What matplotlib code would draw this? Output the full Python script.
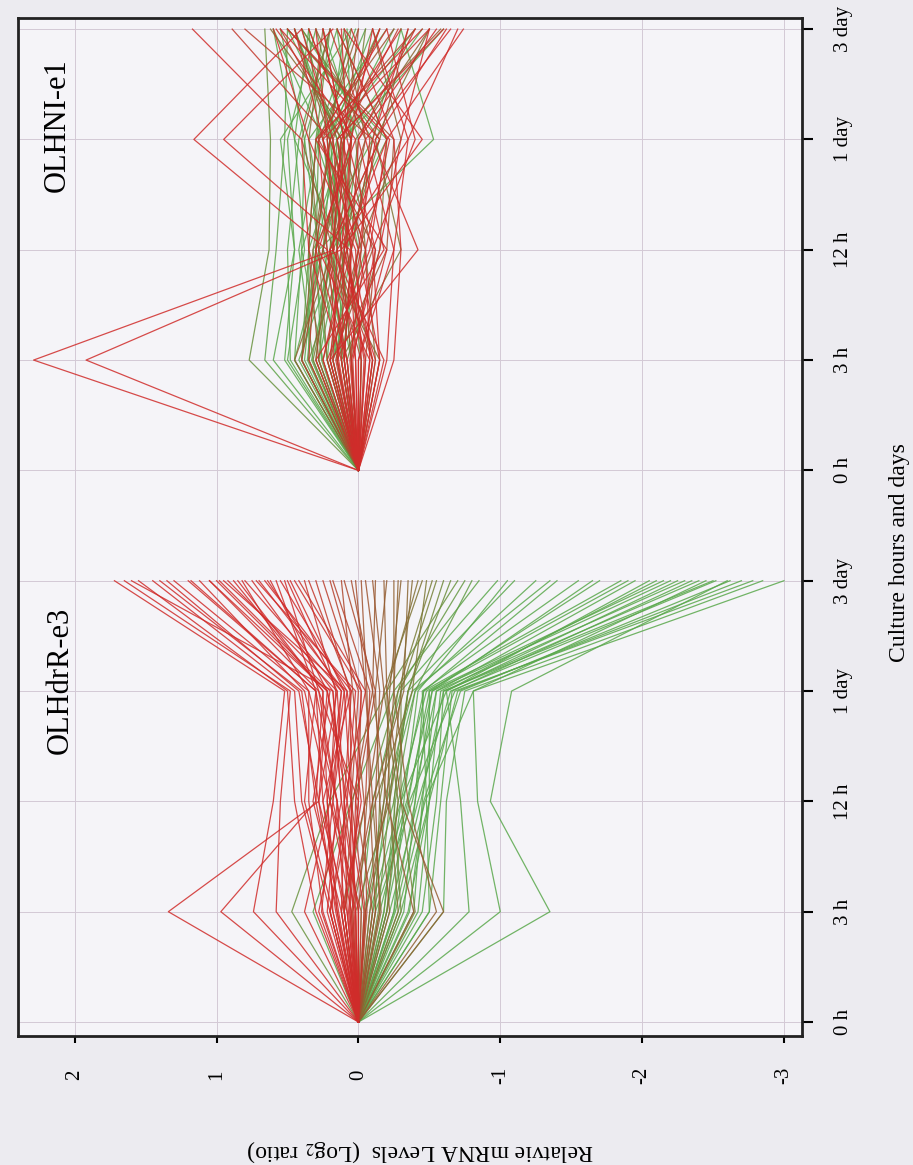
import matplotlib
matplotlib.use("Agg")
import matplotlib.pyplot as plt
import numpy as np
from matplotlib.colors import LinearSegmentedColormap, Normalize

plt.rcParams['font.family'] = ['Liberation Serif', 'DejaVu Serif']
plt.rcParams['mathtext.fontset'] = 'stix'

# Data: log2 ratios at 0 h, 3 h, 12 h, 1 day, 3 day
time_labels = ['0 h', '3 h', '12 h', '1 day', '3 day']
panel_names = ['OLHdrR-e3', 'OLHNI-e1']
value_ticks = [2, 1, 0, -1, -2, -3]
value_labels = ['2', '1', '0', '-1', '-2', '-3']

# one row per gene, same gene order in both lines
e3 = [
    [0, 1.34, 0.28, 0.22, 1.05],
    [0, 0.97, 0.30, 0.25, 0.85],
    [0, 0.74, 0.60, 0.52, 1.72],
    [0, 0.58, 0.55, 0.48, 1.65],
    [0, 0.30, 0.45, 0.50, 1.55],
    [0, 0.20, 0.40, 0.45, 1.45],
    [0, 0.15, 0.30, 0.40, 1.40],
    [0, 0.25, 0.35, 0.35, 1.30],
    [0, 0.10, 0.25, 0.30, 1.20],
    [0, 0.05, 0.20, 0.38, 1.12],
    [0, 0.22, 0.15, 0.28, 1.05],
    [0, 0.12, 0.32, 0.20, 0.98],
    [0, 0.08, 0.10, 0.15, 0.92],
    [0, 0.18, 0.22, 0.25, 0.88],
    [0, 0.02, 0.18, 0.12, 0.80],
    [0, 0.28, 0.12, 0.18, 0.75],
    [0, 0.06, 0.05, 0.10, 0.70],
    [0, 0.14, 0.25, 0.05, 0.66],
    [0, 0.20, 0.08, 0.22, 0.62],
    [0, 0.03, 0.15, 0.30, 0.58],
    [0, 0.10, -0.02, 0.08, 0.55],
    [0, 0.16, 0.28, 0.15, 0.50],
    [0, 0.38, 0.20, 0.10, 0.48],
    [0, 0.04, 0.02, -0.02, 0.45],
    [0, 0.00, 0.10, 0.05, 0.35],
    [0, -0.05, 0.05, 0.00, 0.25],
    [0, 0.12, -0.05, -0.08, 0.18],
    [0, -0.10, 0.02, -0.12, 0.10],
    [0, 0.05, -0.10, -0.05, 0.02],
    [0, -0.15, -0.12, -0.15, -0.05],
    [0, -0.39, -0.20, -0.10, -0.12],
    [0, -0.60, -0.30, -0.20, -0.18],
    [0, -0.55, -0.35, -0.25, -0.25],
    [0, -0.08, -0.18, -0.22, -0.30],
    [0, 0.02, -0.22, -0.30, -0.38],
    [0, -0.20, -0.28, -0.18, -0.45],
    [0, -0.12, -0.15, -0.28, -0.52],
    [0, -0.30, -0.25, -0.35, -0.60],
    [0, 0.47, 0.20, -0.20, -0.70],
    [0, 0.32, 0.05, -0.25, -0.85],
    [0, -0.02, -0.10, -0.30, -0.98],
    [0, -0.05, -0.25, -0.35, -1.10],
    [0, -0.10, -0.20, -0.40, -1.25],
    [0, -0.20, -0.30, -0.46, -1.40],
    [0, -0.50, -0.48, -0.45, -1.55],
    [0, -0.15, -0.35, -0.50, -1.70],
    [0, -0.25, -0.40, -0.46, -1.85],
    [0, -0.39, -0.45, -0.55, -1.95],
    [0, -0.08, -0.30, -0.62, -2.05],
    [0, -0.30, -0.50, -0.50, -2.15],
    [0, -0.78, -0.72, -0.62, -2.25],
    [0, -0.12, -0.38, -0.55, -2.30],
    [0, -0.45, -0.55, -0.60, -2.40],
    [0, -1.00, -0.84, -0.81, -2.45],
    [0, -0.22, -0.42, -0.65, -2.52],
    [0, -1.35, -0.93, -1.08, -2.60],
    [0, -0.35, -0.50, -0.70, -2.70],
    [0, -0.60, -0.62, -0.75, -2.85],
    [0, -0.28, -0.47, -0.81, -3.00],
    [0, -0.18, -0.26, -0.40, -0.80],
    [0, 0.00, 0.12, 0.18, 1.60],
    [0, 0.08, 0.28, 0.42, 1.35],
    [0, 0.18, 0.38, 0.30, 1.18],
    [0, 0.02, 0.05, 0.22, 1.00],
    [0, 0.26, 0.18, 0.08, 0.95],
    [0, 0.10, 0.15, 0.35, 0.82],
    [0, -0.04, 0.08, 0.02, 0.72],
    [0, 0.15, 0.22, 0.12, 0.64],
    [0, 0.07, 0.00, 0.28, 0.52],
    [0, 0.12, 0.10, -0.05, 0.42],
    [0, -0.02, 0.20, 0.16, 0.38],
    [0, 0.20, 0.05, 0.06, 0.30],
    [0, 0.06, 0.00, -0.02, 0.20],
    [0, -0.06, -0.04, 0.04, 0.12],
    [0, 0.10, 0.04, -0.10, 0.05],
    [0, -0.12, -0.08, -0.06, -0.02],
    [0, 0.00, -0.06, -0.18, -0.10],
    [0, -0.22, -0.15, -0.12, -0.20],
    [0, -0.05, -0.20, -0.25, -0.28],
    [0, -0.16, -0.10, -0.32, -0.35],
    [0, -0.28, -0.22, -0.20, -0.42],
    [0, 0.04, -0.12, -0.38, -0.48],
    [0, -0.40, -0.30, -0.30, -0.55],
    [0, -0.14, -0.22, -0.35, -0.65],
    [0, 0.10, -0.05, -0.28, -0.75],
    [0, -0.25, -0.32, -0.42, -1.05],
    [0, -0.04, -0.18, -0.38, -1.35],
    [0, -0.32, -0.40, -0.52, -1.65],
    [0, -0.18, -0.28, -0.48, -1.90],
    [0, -0.42, -0.50, -0.58, -2.10],
    [0, -0.10, -0.34, -0.52, -2.20],
    [0, -0.50, -0.58, -0.66, -2.35],
    [0, -0.26, -0.44, -0.60, -2.50],
    [0, -0.36, -0.46, -0.72, -2.62],
    [0, -0.20, -0.36, -0.68, -2.78],
]

e1 = [
    [0, 2.29, 0.17, 0.22, 0.30],
    [0, 1.92, 0.12, 0.05, -0.10],
    [0, 0.08, 0.22, 1.16, 0.40],
    [0, 0.02, 0.06, 0.95, 0.18],
    [0, 0.12, 0.35, 0.40, 1.17],
    [0, -0.05, 0.10, -0.20, -0.74],
    [0, 0.20, -0.42, -0.10, -0.35],
    [0, -0.10, 0.05, 0.15, -0.60],
    [0, 0.05, -0.15, -0.30, -0.50],
    [0, 0.15, 0.00, 0.25, 0.45],
    [0, -0.20, -0.25, -0.05, -0.65],
    [0, 0.10, 0.20, -0.15, 0.55],
    [0, -0.15, -0.10, -0.40, -0.20],
    [0, 0.25, 0.08, 0.10, 0.25],
    [0, 0.00, -0.20, 0.30, -0.45],
    [0, -0.25, -0.30, -0.25, 0.05],
    [0, 0.18, 0.15, -0.35, -0.70],
    [0, -0.08, 0.28, 0.05, 0.35],
    [0, 0.06, -0.05, 0.20, -0.30],
    [0, -0.12, 0.12, -0.45, 0.10],
    [0, 0.30, -0.18, 0.00, -0.55],
    [0, -0.02, 0.02, 0.35, 0.60],
    [0, 0.22, -0.08, -0.20, 0.15],
    [0, -0.18, 0.18, 0.12, -0.15],
    [0, 0.35, 0.30, 0.20, 0.89],
    [0, 0.10, 0.05, -0.10, 0.80],
    [0, -0.05, -0.12, 0.28, -0.40],
    [0, 0.40, 0.25, 0.10, 0.00],
    [0, 0.15, -0.20, -0.25, 0.50],
    [0, 0.28, 0.35, 0.30, -0.25],
    [0, -0.10, 0.10, -0.05, 0.30],
    [0, 0.05, -0.02, 0.15, -0.58],
    [0, 0.45, 0.18, 0.40, 0.20],
    [0, 0.20, 0.00, -0.30, -0.10],
    [0, -0.15, 0.25, 0.05, 0.62],
    [0, 0.12, -0.30, -0.12, -0.50],
    [0, 0.32, 0.15, 0.22, 0.05],
    [0, -0.02, 0.08, -0.15, 0.40],
    [0, 0.77, 0.63, 0.62, 0.66],
    [0, 0.66, 0.58, 0.52, 0.50],
    [0, 0.52, 0.45, 0.50, 0.30],
    [0, 0.45, 0.40, 0.38, 0.55],
    [0, 0.38, 0.30, 0.20, 0.10],
    [0, 0.30, 0.22, 0.35, -0.20],
    [0, 0.25, 0.40, 0.15, 0.45],
    [0, 0.20, 0.10, 0.00, 0.25],
    [0, 0.15, 0.28, -0.53, -0.30],
    [0, 0.42, 0.15, 0.25, 0.60],
    [0, 0.10, 0.05, 0.30, 0.02],
    [0, 0.35, 0.35, 0.10, -0.45],
    [0, 0.28, 0.12, 0.45, 0.35],
    [0, 0.05, 0.20, 0.05, 0.15],
    [0, 0.18, -0.05, 0.20, -0.10],
    [0, 0.48, 0.50, 0.42, 0.20],
    [0, 0.22, 0.32, -0.10, 0.40],
    [0, 0.12, 0.00, 0.15, -0.25],
    [0, 0.60, 0.45, 0.55, 0.05],
    [0, 0.33, 0.18, -0.20, 0.50],
    [0, 0.08, 0.25, 0.10, -0.60],
    [0, 0.40, 0.30, 0.28, 0.35],
    [0, 0.10, 0.05, 0.00, -0.40],
    [0, 0.02, 0.15, 0.10, 0.25],
    [0, -0.08, -0.05, -0.22, 0.50],
    [0, 0.14, 0.22, 0.28, -0.20],
    [0, 0.04, -0.12, 0.08, 0.12],
    [0, -0.15, 0.00, -0.12, -0.62],
    [0, 0.20, 0.12, 0.18, 0.40],
    [0, 0.00, -0.25, -0.35, -0.10],
    [0, 0.08, 0.30, 0.02, 0.58],
    [0, -0.04, 0.08, 0.25, -0.50],
    [0, 0.16, -0.02, -0.08, 0.20],
    [0, -0.10, 0.18, 0.12, -0.28],
    [0, 0.12, 0.10, 0.05, 0.35],
    [0, 0.25, 0.05, 0.18, -0.15],
    [0, -0.02, 0.20, -0.05, 0.10],
    [0, 0.18, -0.10, 0.12, 0.55],
    [0, 0.30, 0.20, -0.15, -0.35],
    [0, 0.05, 0.12, 0.25, 0.00],
    [0, 0.40, 0.32, 0.20, 0.45],
    [0, -0.12, -0.05, 0.02, -0.50],
    [0, 0.22, 0.28, 0.35, 0.25],
    [0, 0.08, -0.15, -0.20, 0.15],
    [0, 0.35, 0.08, 0.05, -0.05],
    [0, 0.28, 0.20, 0.15, 0.40],
    [0, 0.40, 0.35, 0.30, 0.20],
    [0, 0.15, 0.10, 0.22, -0.15],
    [0, 0.50, 0.38, 0.45, 0.60],
    [0, 0.22, 0.15, 0.05, 0.08],
    [0, 0.32, 0.42, 0.28, -0.05],
    [0, 0.12, 0.18, 0.10, 0.30],
    [0, 0.45, 0.25, 0.18, 0.45],
    [0, 0.18, 0.05, -0.10, -0.30],
    [0, 0.36, 0.28, 0.38, 0.15],
    [0, 0.26, 0.30, 0.12, 0.50],
    [0, 0.05, 0.12, 0.20, -0.40],
]

e3 = np.array(e3)
e1 = np.array(e1)

# figure: the whole chart is turned 90 degrees, time runs upward
fig = plt.figure(figsize=(9.13, 11.65), dpi=100, facecolor='#ecebf0')
ax = fig.add_axes([0.0197, 0.1107, 0.8587, 0.8738])
ax.set_facecolor('#f5f4f8')

pos1 = np.arange(5)
pos2 = np.arange(5) + 5

# colour each gene by its 3 day response in e3
cmap = LinearSegmentedColormap.from_list(
    'rg', ['#5aa84c', '#6f8a3a', '#8a6532', '#9c5530', '#b8402c', '#d02c2a'])
norm = Normalize(vmin=-0.9, vmax=0.5)

order = np.argsort(e3[:, -1])
for i in order:
    c = cmap(norm(e3[i, -1]))
    ax.plot(e3[i], pos1, color=c, lw=0.9, alpha=0.85)
    ax.plot(e1[i], pos2, color=c, lw=0.9, alpha=0.85)

ax.set_xlim(2.40, -3.127)
ax.set_ylim(-0.127, 9.10)

ax.set_xticks(value_ticks)
ax.set_xticklabels(value_labels)
ax.set_yticks(np.arange(10))
ax.set_yticklabels(time_labels + time_labels)
ax.yaxis.tick_right()

ax.grid(True, color='#d3c9d5', lw=0.7)
ax.set_axisbelow(True)

for s in ax.spines.values():
    s.set_linewidth(2)
    s.set_color('#222222')

ax.tick_params(axis='x', direction='out', length=5, width=1.5, pad=23, labelsize=15)
ax.tick_params(axis='y', direction='out', length=8, width=1.5, pad=22, labelsize=15)
for t in ax.get_xticklabels():
    t.set_rotation(90)
    t.set_va('center')
for t in ax.get_yticklabels():
    t.set_rotation(90)
    t.set_ha('center')
    t.set_va('center')

# panel names
ax.text(2.10, 3.1, panel_names[0], rotation=90, ha='center', va='center', fontsize=22)
ax.text(2.12, 8.13, panel_names[1], rotation=90, ha='center', va='center', fontsize=22)

# axis titles (turned with the chart)
fig.text(0.46, 0.012, 'Relatvie mRNA Levels  (Log$_2$ ratio)', rotation=180,
         ha='center', va='center', fontsize=17)
fig.text(0.985, 0.526, 'Culture hours and days', rotation=90,
         ha='center', va='center', fontsize=17)

fig.savefig('out.png', dpi=100, facecolor=fig.get_facecolor())
